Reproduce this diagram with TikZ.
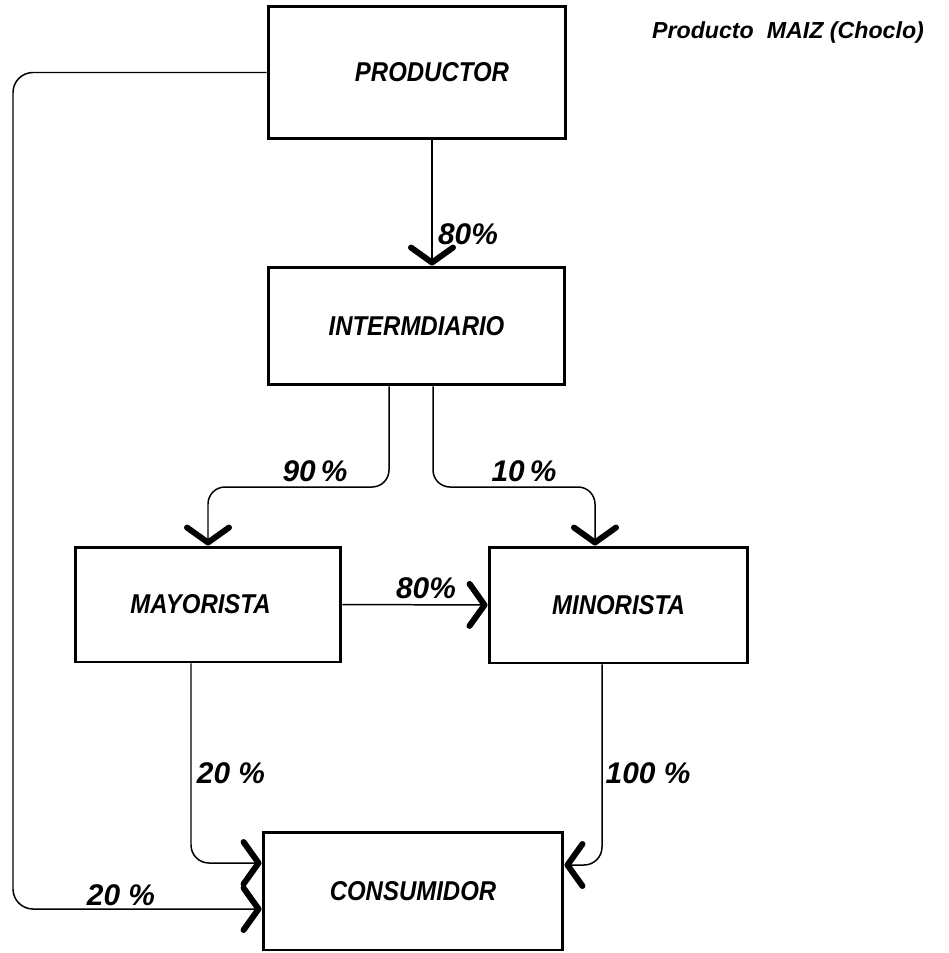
\documentclass[tikz,border=0pt]{standalone}
\usepackage{fontspec}
\newfontfamily\lett[FakeStretch=0.88]{Liberation Sans}
\newfontfamily\lablett{Liberation Sans}
\usetikzlibrary{arrows.meta}
\begin{document}
\begin{tikzpicture}[x=0.02cm,y=-0.02cm,
  box/.style={draw,line width=1.7pt,rectangle,inner sep=0pt,
    font=\lett\bfseries\itshape\fontsize{15.5}{18}\selectfont},
  conn/.style={line width=0.85pt,-{Straight Barb[length=0.3cm,width=0.84cm,line width=3.4pt,round]}},
  lbl/.style={inner sep=0pt,font=\lablett\bfseries\itshape\fontsize{17}{20}\selectfont},
  ttl/.style={inner sep=0pt,font=\lablett\bfseries\itshape\fontsize{13.2}{16}\selectfont}]
\useasboundingbox (0,0) rectangle (949,953);
% boxes
\node[box,minimum width=5.96cm,minimum height=2.66cm] (prod) at (417,72.5) {\hspace*{0.6cm}PRODUCTOR};
\node[box,minimum width=5.94cm,minimum height=2.36cm] (inter) at (416.5,326) {INTERMDIARIO};
\node[box,minimum width=5.32cm,minimum height=2.30cm] (may) at (208,604.5) {\hspace*{-0.3cm}MAYORISTA};
\node[box,minimum width=5.18cm,minimum height=2.32cm] (min) at (618.5,605) {MINORISTA};
\node[box,minimum width=6.00cm,minimum height=2.36cm] (cons) at (413,891) {CONSUMIDOR};
% title
\node[ttl] (title) at (788,33) {Producto\ \ MAIZ (Choclo)};
% connectors
\draw[conn] (432,0 |- prod.south) -- (432,0 |- inter.north);
\draw[conn,rounded corners=0.4cm] (prod.west) -- (13,72.5) -- (13,909) -- (cons.west |- 0,909);
\draw[conn,rounded corners=0.34cm] (389,0 |- inter.south) -- (389,487) -- (208,487) -- (may.north);
\draw[conn,rounded corners=0.34cm] (433,0 |- inter.south) -- (433,487) -- (595,487) -- (595,0 |- min.north);
\draw[conn] (may.east) -- (min.west);
\draw[conn,rounded corners=0.36cm] (191,0 |- may.south) -- (191,863) -- (cons.west |- 0,863);
\draw[conn,rounded corners=0.36cm] (602,0 |- min.south) -- (602,865) -- (cons.east |- 0,865);
% labels
\node[lbl] (l1) at (468,234) {80\%};
\node[lbl] (l2) at (315,471) {90\,\%};
\node[lbl] (l3) at (524,471) {10\,\%};
\node[lbl] (l4) at (426,588) {80\%};
\node[lbl] (l5) at (231,773) {20 \%};
\node[lbl] (l6) at (648,773) {100 \%};
\node[lbl] (l7) at (121,895) {20 \%};
\end{tikzpicture}
\end{document}
